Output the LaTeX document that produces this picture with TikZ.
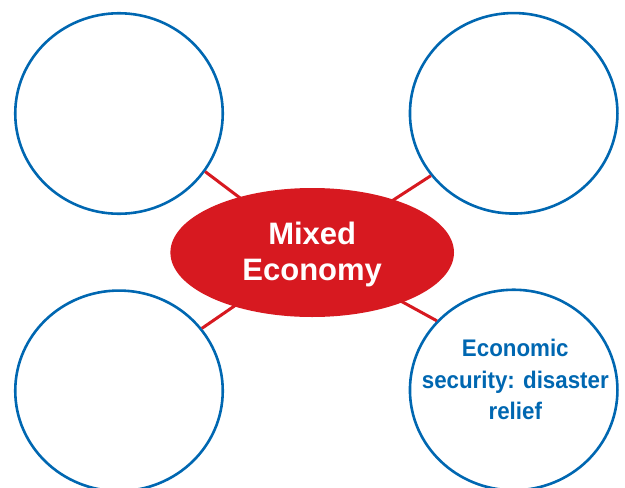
\documentclass[tikz,border=0pt]{standalone}
\usepackage{fontspec}
\setmainfont{Liberation Sans}
\newfontfamily\condfont[FakeStretch=0.93]{Liberation Sans}
\usetikzlibrary{shapes.geometric}
\definecolor{cblue}{RGB}{0,103,177}
\definecolor{cred}{RGB}{215,25,32}
\tikzset{
  bubble/.style={ellipse, draw=cblue, line width=2.6pt, inner sep=0pt,
    minimum width=207.5pt, minimum height=200.5pt},
  hub/.style={ellipse, fill=cred, inner sep=0pt,
    minimum width=283.6pt, minimum height=129pt},
  hubtext/.style={text=white, font=\fontsize{31}{36.7}\selectfont\bfseries, align=center, inner sep=0pt},
  bubtext/.style={text=cblue, font=\condfont\fontsize{24}{31.7}\selectfont\bfseries, align=center, inner sep=0pt},
  link/.style={draw=cred, line width=3pt}
}
\begin{document}
\begin{tikzpicture}[x=1pt,y=-1pt]
\path[use as bounding box] (0,0) rectangle (625,488);
\node[bubble] (c1) at (119,113.5) {};
\node[bubble] (c2) at (513.7,113.3) {};
\node[bubble] (c3) at (119,390.8) {};
\node[bubble] (c4) at (513.7,390) {};
\draw[link] (c1.-34.8) -- (312.2,252.5);
\draw[link] (c2.-143.3) -- (312.2,252.5);
\draw[link] (c3.37.5) -- (312.2,252.5);
\draw[link] (c4.138.8) -- (312.2,252.5);
\node[hub] (e) at (312.2,252.5) {};
\node[hubtext] (et) at (312.2,254.6) {Mixed\\Economy};
\node[bubtext] (t4) at (515.3,379.6) {Economic\\security: disaster\\relief};
\end{tikzpicture}
\end{document}
